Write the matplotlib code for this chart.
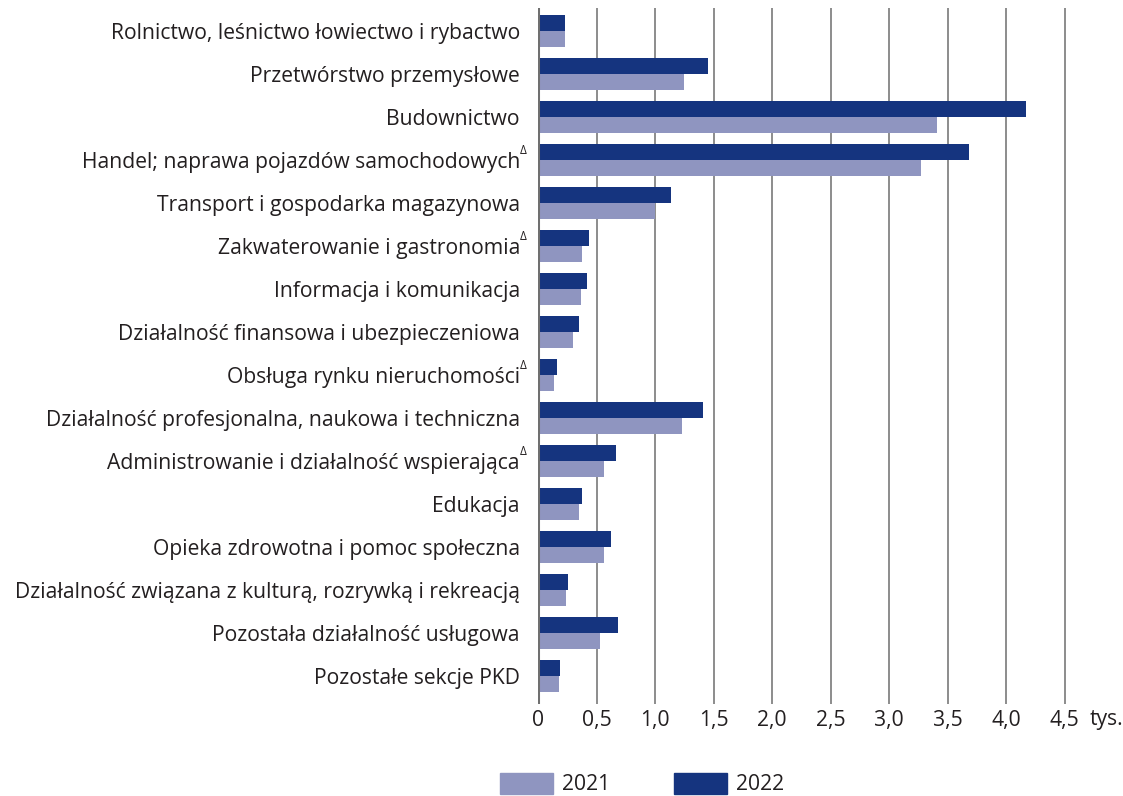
import matplotlib
matplotlib.use("Agg")
import matplotlib.pyplot as plt
from matplotlib.patches import Patch

plt.rcParams["font.family"] = ["Open Sans", "DejaVu Sans"]

categories = [
    "Rolnictwo, leśnictwo łowiectwo i rybactwo",
    "Przetwórstwo przemysłowe",
    "Budownictwo",
    "Handel; naprawa pojazdów samochodowych",
    "Transport i gospodarka magazynowa",
    "Zakwaterowanie i gastronomia",
    "Informacja i komunikacja",
    "Działalność finansowa i ubezpieczeniowa",
    "Obsługa rynku nieruchomości",
    "Działalność profesjonalna, naukowa i techniczna",
    "Administrowanie i działalność wspierająca",
    "Edukacja",
    "Opieka zdrowotna i pomoc społeczna",
    "Działalność związana z kulturą, rozrywką i rekreacją",
    "Pozostała działalność usługowa",
    "Pozostałe sekcje PKD",
]
# categories marked with a delta sign
delta_marked = [3, 5, 8, 10]

values_2021 = [0.23, 1.245, 3.41, 3.27, 1.00, 0.375, 0.37, 0.30, 0.14,
               1.23, 0.56, 0.35, 0.56, 0.24, 0.53, 0.18]
values_2022 = [0.23, 1.45, 4.17, 3.68, 1.14, 0.44, 0.42, 0.35, 0.16,
               1.41, 0.665, 0.38, 0.62, 0.26, 0.68, 0.19]

x_ticks = [0, 0.5, 1.0, 1.5, 2.0, 2.5, 3.0, 3.5, 4.0, 4.5]
x_tick_labels = ["0", "0,5", "1,0", "1,5", "2,0", "2,5", "3,0", "3,5", "4,0", "4,5"]

color_2021 = "#8f95c0"
color_2022 = "#15347f"
text_color = "#231f20"
fs = 15.2

fig = plt.figure(figsize=(11.23, 7.96), dpi=100)
ax = fig.add_axes([538 / 1123, 92 / 796, 4.52 * 117 / 1123, 696 / 796])

h = 0.37
pos = list(range(len(categories)))
ax.barh([p - h / 2 for p in pos], values_2022, height=h, color=color_2022, zorder=3)
ax.barh([p + h / 2 for p in pos], values_2021, height=h, color=color_2021, zorder=3)

ax.set_xlim(0, 4.52)
ax.set_ylim(15.65, -0.535)

for xt in x_ticks[1:]:
    ax.axvline(xt, color="#8c8c8c", lw=1.4, zorder=1)
ax.axvline(0, color="#707070", lw=2.2, zorder=4)

for s in ax.spines.values():
    s.set_visible(False)

ax.set_xticks(x_ticks)
ax.set_xticklabels(x_tick_labels, fontsize=fs, color=text_color)
ax.set_yticks(pos)
ax.set_yticklabels(categories, fontsize=fs, color=text_color)
ax.tick_params(axis="x", length=0, pad=4)
ax.tick_params(axis="y", length=0, pad=13)

for i in delta_marked:
    ax.annotate("Δ", xy=(0, i), xycoords=("axes fraction", "data"),
                xytext=(-18, 3), textcoords="offset pixels",
                ha="left", va="bottom", fontsize=8.5, color=text_color)

ax.annotate("tys.", xy=(4.5, 0), xycoords=("data", "axes fraction"),
            xytext=(25, -16), textcoords="offset pixels",
            ha="left", va="center", fontsize=fs, color=text_color)

handles = [Patch(color=color_2021, label="2021"), Patch(color=color_2022, label="2022")]
fig.legend(handles=handles, loc="center", bbox_to_anchor=(0.5717, 0.015), ncol=2,
           frameon=False, fontsize=fs, handlelength=2.5, handleheight=1.14,
           columnspacing=3.04, handletextpad=0.43, borderpad=0, labelcolor=text_color)

fig.savefig("out.png", dpi=100)
